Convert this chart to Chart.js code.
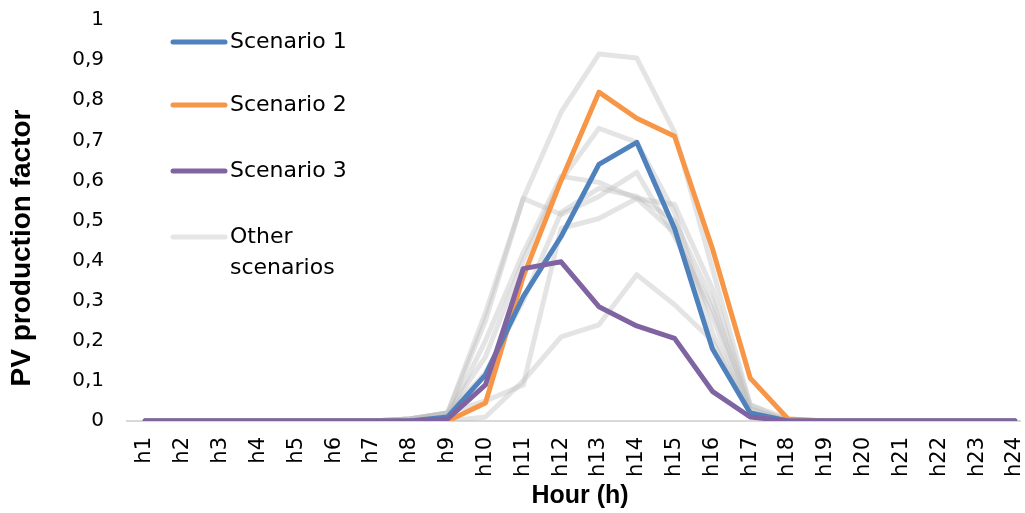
<!DOCTYPE html>
<html>
<head>
<meta charset="utf-8">
<script src="https://cdn.jsdelivr.net/npm/chart.js@4/dist/chart.umd.min.js"></script>
<style>
  html, body { margin: 0; padding: 0; background: #ffffff; }
  #wrap { width: 1025px; height: 513px; position: relative; }
</style>
</head>
<body>
<div id="wrap"><canvas id="c" width="1025" height="513"></canvas></div>
<script>
const hours = ["h1","h2","h3","h4","h5","h6","h7","h8","h9","h10","h11","h12","h13","h14","h15","h16","h17","h18","h19","h20","h21","h22","h23","h24"];
const yTickLabels = ["0","0,1","0,2","0,3","0,4","0,5","0,6","0,7","0,8","0,9","1"];

const scenario1 = [0,0,0,0,0,0,0,0,0.01,0.115,0.31,0.46,0.64,0.695,0.48,0.18,0.02,0,0,0,0,0,0,0];
const scenario2 = [0,0,0,0,0,0,0,0,0,0.045,0.36,0.60,0.82,0.755,0.71,0.43,0.107,0.005,0,0,0,0,0,0];
const scenario3 = [0,0,0,0,0,0,0,0,0.005,0.09,0.38,0.397,0.285,0.237,0.206,0.074,0.01,0,0,0,0,0,0,0];

const other1 = [0,0,0,0,0,0,0,0.005,0.02,0.27,0.555,0.77,0.915,0.905,0.72,0.38,0.04,0.005,0,0,0,0,0,0];
const other2 = [0,0,0,0,0,0,0,0.005,0.02,0.16,0.40,0.60,0.73,0.695,0.52,0.22,0.02,0,0,0,0,0,0,0];
const other3 = [0,0,0,0,0,0,0,0.005,0.02,0.25,0.555,0.515,0.56,0.62,0.46,0.28,0.03,0,0,0,0,0,0,0];
const other4 = [0,0,0,0,0,0,0,0.005,0.01,0.20,0.42,0.61,0.595,0.555,0.54,0.33,0.04,0,0,0,0,0,0,0];
const other5 = [0,0,0,0,0,0,0,0,0,0.01,0.10,0.21,0.24,0.365,0.29,0.20,0.02,0,0,0,0,0,0,0];
const other6 = [0,0,0,0,0,0,0,0.005,0.02,0.05,0.09,0.48,0.505,0.555,0.47,0.26,0.02,0,0,0,0,0,0,0];
const other7 = [0,0,0,0,0,0,0,0.005,0.02,0.12,0.30,0.52,0.58,0.56,0.50,0.30,0.03,0,0,0,0,0,0,0];

const BLUE = "#4F81BD", ORANGE = "#F79646", PURPLE = "#8064A2";
const GRAY = "rgba(190,190,190,0.42)";
const GRAY_LEGEND = "#e6e6e6";

const others = [other1, other2, other3, other4, other5, other6, other7];

function lineDs(label, data, color, order, width) {
  return {
    label, data, borderColor: color, backgroundColor: color,
    borderWidth: width, pointRadius: 0, pointHoverRadius: 0, tension: 0,
    borderJoinStyle: "round", borderCapStyle: "round", fill: false, order
  };
}

const datasets = [
  lineDs("Scenario 3", scenario3, PURPLE, 1, 5),
  lineDs("Scenario 1", scenario1, BLUE, 2, 5),
  lineDs("Scenario 2", scenario2, ORANGE, 3, 5)
];
others.forEach((arr, i) => datasets.push(lineDs(i === 0 ? "Other scenarios" : "Other " + (i + 1), arr, GRAY, 10 + i, 5)));

const baselinePlugin = {
  id: "baseline",
  beforeDatasetsDraw(chart) {
    const ctx = chart.ctx, y = chart.scales.y.getPixelForValue(0);
    ctx.save();
    ctx.strokeStyle = "#d9d9d9";
    ctx.lineWidth = 2;
    ctx.beginPath();
    ctx.moveTo(chart.chartArea.left - 19, y);
    ctx.lineTo(chart.chartArea.right + 6, y);
    ctx.stroke();
    ctx.restore();
  }
};

const legendItems = [
  { lines: ["Scenario 1"], color: BLUE, y: 42 },
  { lines: ["Scenario 2"], color: ORANGE, y: 105 },
  { lines: ["Scenario 3"], color: PURPLE, y: 171 },
  { lines: ["Other", "scenarios"], color: GRAY_LEGEND, y: 237 }
];

const legendPlugin = {
  id: "customLegend",
  afterDraw(chart) {
    const ctx = chart.ctx;
    ctx.save();
    ctx.font = "22px 'DejaVu Sans'";
    ctx.textBaseline = "middle";
    ctx.textAlign = "left";
    legendItems.forEach(it => {
      ctx.strokeStyle = it.color;
      ctx.lineWidth = 5;
      ctx.lineCap = "round";
      ctx.beginPath();
      ctx.moveTo(173, it.y);
      ctx.lineTo(225, it.y);
      ctx.stroke();
      ctx.fillStyle = "#000000";
      it.lines.forEach((t, k) => ctx.fillText(t, 230, it.y + k * 31));
    });
    // y-axis title
    ctx.translate(22, 248);
    ctx.rotate(-Math.PI / 2);
    ctx.textAlign = "center";
    ctx.font = "bold 28px 'Liberation Sans'";
    ctx.fillText("PV production factor", 0, 0);
    ctx.restore();
  }
};

new Chart(document.getElementById("c"), {
  type: "line",
  data: { labels: hours, datasets },
  options: {
    responsive: false,
    animation: false,
    events: [],
    layout: { padding: { top: 20, right: 10, left: 0, bottom: 0 } },
    plugins: { legend: { display: false }, tooltip: { enabled: false } },
    scales: {
      x: {
        offset: false,
        grid: { display: false },
        border: { display: false },
        ticks: {
          autoSkip: false, minRotation: 90, maxRotation: 90, padding: 8,
          color: "#000000", font: { family: "'DejaVu Sans'", size: 21 }
        },
        title: {
          display: true, text: "Hour (h)", color: "#000000",
          font: { family: "'Liberation Sans'", size: 25, weight: "bold" },
          padding: { top: 0, bottom: 2 }
        },
        afterFit(s) { s.height = 92; s.paddingLeft = 0; s.paddingRight = 0; }
      },
      y: {
        min: 0, max: 1,
        grid: { display: false },
        border: { display: false },
        ticks: {
          stepSize: 0.1, padding: 33, color: "#000000",
          font: { family: "'DejaVu Sans'", size: 20 },
          callback: (v, i) => yTickLabels[i]
        },
        afterFit(s) { s.width = 145; s.paddingTop = 0; s.paddingBottom = 0; }
      }
    }
  },
  plugins: [baselinePlugin, legendPlugin]
});
</script>
</body>
</html>
